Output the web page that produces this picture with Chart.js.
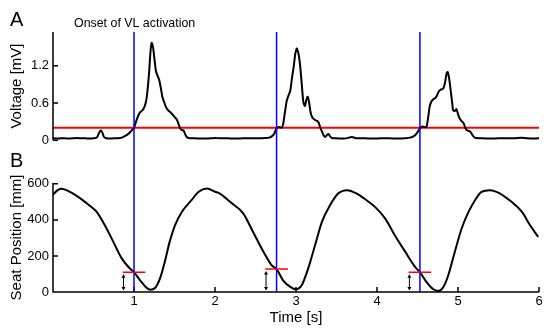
<!DOCTYPE html>
<html>
<head>
<meta charset="utf-8">
<script src="https://cdn.jsdelivr.net/npm/chart.js@4.4.1/dist/chart.umd.min.js"></script>
<style>
  html, body { margin: 0; padding: 0; background: #fff; }
  #wrap { width: 550px; height: 330px; }
</style>
</head>
<body>
<div id="wrap"><canvas id="myChart" width="550" height="330"></canvas></div>
<script>
// panel A: EMG voltage (s, mV)
var voltTime = [0.00, 0.05, 0.10, 0.15, 0.20, 0.25, 0.30, 0.35, 0.40, 0.45, 0.50, 0.54, 0.57, 0.59, 0.61, 0.63, 0.66,
  0.70, 0.75, 0.80, 0.85, 0.88, 0.92, 0.96, 1.00, 1.03, 1.07, 1.11, 1.14, 1.16, 1.185, 1.205, 1.218, 1.235, 1.25,
  1.27, 1.29, 1.31, 1.33, 1.35, 1.37, 1.39, 1.41, 1.43, 1.45, 1.47, 1.49, 1.51, 1.53, 1.55, 1.57, 1.59, 1.61, 1.63,
  1.65, 1.69, 1.75, 1.85, 1.95, 2.00, 2.05, 2.15, 2.25, 2.35, 2.45, 2.55, 2.62, 2.67, 2.70, 2.73, 2.76, 2.79, 2.82,
  2.84, 2.86, 2.885, 2.91, 2.93, 2.95, 2.97, 2.99, 3.01, 3.03, 3.05, 3.07, 3.09, 3.11, 3.13, 3.145, 3.16, 3.18, 3.20,
  3.23, 3.26, 3.28, 3.30, 3.32, 3.34, 3.36, 3.38, 3.40, 3.42, 3.45, 3.50, 3.60, 3.69, 3.75, 3.85, 3.95, 4.05, 4.15,
  4.25, 4.35, 4.41, 4.45, 4.49, 4.53, 4.56, 4.59, 4.61, 4.63, 4.65, 4.67, 4.695, 4.72, 4.74, 4.76, 4.78, 4.80, 4.82,
  4.84, 4.86, 4.873, 4.89, 4.91, 4.93, 4.94, 4.96, 4.98, 5.00, 5.02, 5.05, 5.07, 5.09, 5.11, 5.13, 5.15, 5.17, 5.19,
  5.21, 5.30, 5.40, 5.50, 5.60, 5.70, 5.78, 5.85, 5.95, 6.00];
var voltValue = [0.03, 0.025, 0.03, 0.03, 0.025, 0.03, 0.035, 0.03, 0.03, 0.025, 0.03, 0.04, 0.12, 0.16, 0.12, 0.05, 0.03,
  0.025, 0.03, 0.03, 0.04, 0.06, 0.09, 0.14, 0.20, 0.32, 0.44, 0.49, 0.58, 0.72, 1.07, 1.45, 1.57, 1.50, 1.34,
  1.12, 1.04, 0.98, 0.85, 0.70, 0.62, 0.55, 0.50, 0.47, 0.45, 0.42, 0.39, 0.36, 0.33, 0.26, 0.19, 0.16, 0.16, 0.10,
  0.05, 0.03, 0.03, 0.025, 0.03, 0.035, 0.03, 0.03, 0.025, 0.03, 0.03, 0.03, 0.035, 0.04, 0.06, 0.10, 0.19, 0.21, 0.20,
  0.25, 0.42, 0.63, 0.73, 0.80, 1.00, 1.17, 1.38, 1.48, 1.40, 1.22, 0.92, 0.62, 0.55, 0.66, 0.70, 0.62, 0.45, 0.37,
  0.33, 0.31, 0.28, 0.20, 0.14, 0.08, 0.05, 0.08, 0.10, 0.06, 0.03, 0.03, 0.025, 0.05, 0.03, 0.03, 0.025, 0.03, 0.03,
  0.025, 0.03, 0.04, 0.06, 0.11, 0.19, 0.22, 0.21, 0.21, 0.35, 0.54, 0.62, 0.66, 0.68, 0.72, 0.78, 0.81, 0.82, 0.84,
  0.93, 1.08, 1.10, 1.00, 0.80, 0.58, 0.48, 0.47, 0.50, 0.42, 0.35, 0.30, 0.27, 0.20, 0.16, 0.15, 0.14, 0.10, 0.06,
  0.04, 0.03, 0.025, 0.03, 0.03, 0.03, 0.04, 0.03, 0.025, 0.03];

// panel B: seat position (s, mm)
var seatTime = [0.00, 0.05, 0.10, 0.15, 0.21, 0.31, 0.42, 0.50, 0.54, 0.64, 0.745, 0.85, 0.95, 1.00, 1.075, 1.136, 1.20,
  1.26, 1.32, 1.38, 1.44, 1.506, 1.59, 1.71, 1.795, 1.90, 2.00, 2.06, 2.185, 2.35, 2.47, 2.60, 2.70, 2.76, 2.84, 2.93,
  3.00, 3.07, 3.15, 3.235, 3.32, 3.42, 3.52, 3.63, 3.75, 3.87, 3.975, 4.10, 4.22, 4.35, 4.47, 4.53, 4.61, 4.695, 4.757,
  4.82, 4.88, 4.96, 5.045, 5.13, 5.21, 5.29, 5.395, 5.52, 5.66, 5.79, 5.89, 5.99];
var seatValue = [540, 562, 572, 568, 555, 528, 491, 462, 444, 370, 278, 185, 130, 110, 65, 32, 13,
  22, 74, 167, 278, 370, 444, 509, 555, 574, 556, 546, 500, 435, 333, 222, 148, 127, 65, 28,
  15, 37, 130, 259, 389, 481, 546, 565, 546, 509, 472, 408, 315, 222, 139, 110, 56, 15, 6,
  28, 93, 222, 352, 444, 509, 555, 565, 546, 500, 444, 370, 305];

var threshold = 0.2;
var onsetTimes = [1.0, 2.76, 4.53];
var onsetSeat = [110, 127, 110];

var timeTicks = [1, 2, 3, 4, 5, 6];
var voltTicks = [0, 0.6, 1.2];
var seatTicks = [0, 200, 400, 600];

var FONT = '"Liberation Sans", Arial, Helvetica, sans-serif';

function pts(xs, ys) {
  return xs.map(function (t, i) { return { x: t, y: ys[i] }; });
}

// axes, onset lines, markers and panel text
var extras = {
  id: 'extras',
  afterDatasetsDraw: function (chart) {
    var ctx = chart.ctx, area = chart.chartArea;
    var x = chart.scales.x, yA = chart.scales.yA, yB = chart.scales.yB;
    var x0 = x.getPixelForValue(0), x6 = x.getPixelForValue(6);
    var a0 = yA.getPixelForValue(0), b0 = yB.getPixelForValue(0);
    ctx.save();

    ctx.strokeStyle = '#000';
    ctx.lineWidth = 1.5;
    ctx.beginPath();
    ctx.moveTo(x0, area.top); ctx.lineTo(x0, a0);
    ctx.moveTo(x0, yB.getPixelForValue(605)); ctx.lineTo(x0, b0); ctx.lineTo(x6, b0);
    voltTicks.forEach(function (v) {
      var p = yA.getPixelForValue(v);
      ctx.moveTo(x0, p); ctx.lineTo(x0 + 5, p);
    });
    seatTicks.forEach(function (v) {
      var p = yB.getPixelForValue(v);
      ctx.moveTo(x0, p); ctx.lineTo(x0 + 5, p);
    });
    timeTicks.forEach(function (v) {
      var p = x.getPixelForValue(v);
      ctx.moveTo(p, b0); ctx.lineTo(p, b0 - 5);
    });
    ctx.stroke();

    // onset lines
    ctx.strokeStyle = '#0000ff';
    ctx.lineWidth = 1.5;
    ctx.beginPath();
    onsetTimes.forEach(function (t) {
      var p = x.getPixelForValue(t);
      ctx.moveTo(p, area.top); ctx.lineTo(p, b0);
    });
    ctx.stroke();

    // seat position at onset
    ctx.strokeStyle = '#ff0000';
    ctx.beginPath();
    onsetTimes.forEach(function (t, i) {
      var p = yB.getPixelForValue(onsetSeat[i]);
      ctx.moveTo(x.getPixelForValue(t - 0.14), p);
      ctx.lineTo(x.getPixelForValue(t + 0.14), p);
    });
    ctx.stroke();

    // double arrows
    ctx.strokeStyle = '#000';
    ctx.fillStyle = '#000';
    ctx.lineWidth = 1;
    onsetTimes.forEach(function (t, i) {
      var px = x.getPixelForValue(t - 0.13);
      var top = yB.getPixelForValue(onsetSeat[i]) + 2;
      var bot = b0 - 1.5;
      ctx.beginPath();
      ctx.moveTo(px, top + 2); ctx.lineTo(px, bot - 2);
      ctx.stroke();
      ctx.beginPath();
      ctx.moveTo(px, top); ctx.lineTo(px - 2, top + 3.5); ctx.lineTo(px + 2, top + 3.5); ctx.closePath();
      ctx.moveTo(px, bot); ctx.lineTo(px - 2, bot - 3.5); ctx.lineTo(px + 2, bot - 3.5); ctx.closePath();
      ctx.fill();
    });

    // text
    ctx.fillStyle = '#000';
    ctx.textAlign = 'left';
    ctx.textBaseline = 'alphabetic';
    ctx.font = '20px ' + FONT;
    ctx.fillText('A', 10, 26);
    ctx.fillText('B', 10, 167);
    ctx.font = '12.4px ' + FONT;
    ctx.fillText('Onset of VL activation', 74, 27);

    ctx.font = '15px ' + FONT;
    ctx.textAlign = 'center';
    ctx.textBaseline = 'middle';
    [['Voltage [mV]', (area.top + a0) / 2], ['Seat Position [mm]', (yB.getPixelForValue(605) + b0) / 2]].forEach(function (d) {
      ctx.save();
      ctx.translate(16.5, d[1]);
      ctx.rotate(-Math.PI / 2);
      ctx.fillText(d[0], 0, 0);
      ctx.restore();
    });
    ctx.restore();
  }
};

var tickFont = { family: FONT, size: 13 };

window.addEventListener('DOMContentLoaded', function () {
  var ctx = document.getElementById('myChart').getContext('2d');
  var chart = new Chart(ctx, {
    type: 'line',
    data: {
      datasets: [{
        label: 'Voltage',
        data: pts(voltTime, voltValue),
        xAxisID: 'x', yAxisID: 'yA',
        borderColor: '#000', borderWidth: 2, pointRadius: 0, tension: 0.2
      }, {
        label: 'Threshold',
        data: [{ x: 0, y: threshold }, { x: 6, y: threshold }],
        xAxisID: 'x', yAxisID: 'yA',
        borderColor: '#ff0000', borderWidth: 1.8, pointRadius: 0
      }, {
        label: 'Seat Position',
        data: pts(seatTime, seatValue),
        xAxisID: 'x', yAxisID: 'yB',
        borderColor: '#000', borderWidth: 2, pointRadius: 0, cubicInterpolationMode: 'monotone'
      }]
    },
    options: {
      responsive: false,
      animation: false,
      devicePixelRatio: 1,
      layout: { padding: { top: 32, right: 11, bottom: 0, left: 0 } },
      plugins: { legend: { display: false }, tooltip: { enabled: false } },
      scales: {
        x: {
          type: 'linear', min: 0, max: 6,
          afterBuildTicks: function (s) { s.ticks = timeTicks.map(function (v) { return { value: v }; }); },
          afterFit: function (s) { s.height = 38; },
          grid: { display: false, drawTicks: false },
          border: { display: false },
          ticks: { color: '#000', font: tickFont, padding: 2, maxRotation: 0 },
          title: { display: true, text: 'Time [s]', color: '#000', font: { family: FONT, size: 15 }, padding: { top: 0, bottom: 3 } }
        },
        yB: {
          type: 'linear', position: 'left', stack: 'panels', stackWeight: 1,
          min: 0, max: 721,
          afterBuildTicks: function (s) { s.ticks = seatTicks.map(function (v) { return { value: v }; }); },
          afterFit: function (s) { s.width = 53; },
          grid: { display: false, drawTicks: false },
          border: { display: false },
          ticks: { color: '#000', font: tickFont, padding: 4, callback: function (v) { return String(v); } }
        },
        yA: {
          type: 'linear', position: 'left', stack: 'panels', stackWeight: 1,
          min: -0.353, max: 1.745,
          afterBuildTicks: function (s) { s.ticks = voltTicks.map(function (v) { return { value: v }; }); },
          afterFit: function (s) { s.width = 53; },
          grid: { display: false, drawTicks: false },
          border: { display: false },
          ticks: { color: '#000', font: tickFont, padding: 4, callback: function (v) { return String(v); } }
        }
      }
    },
    plugins: [extras]
  });
});
</script>
</body>
</html>
